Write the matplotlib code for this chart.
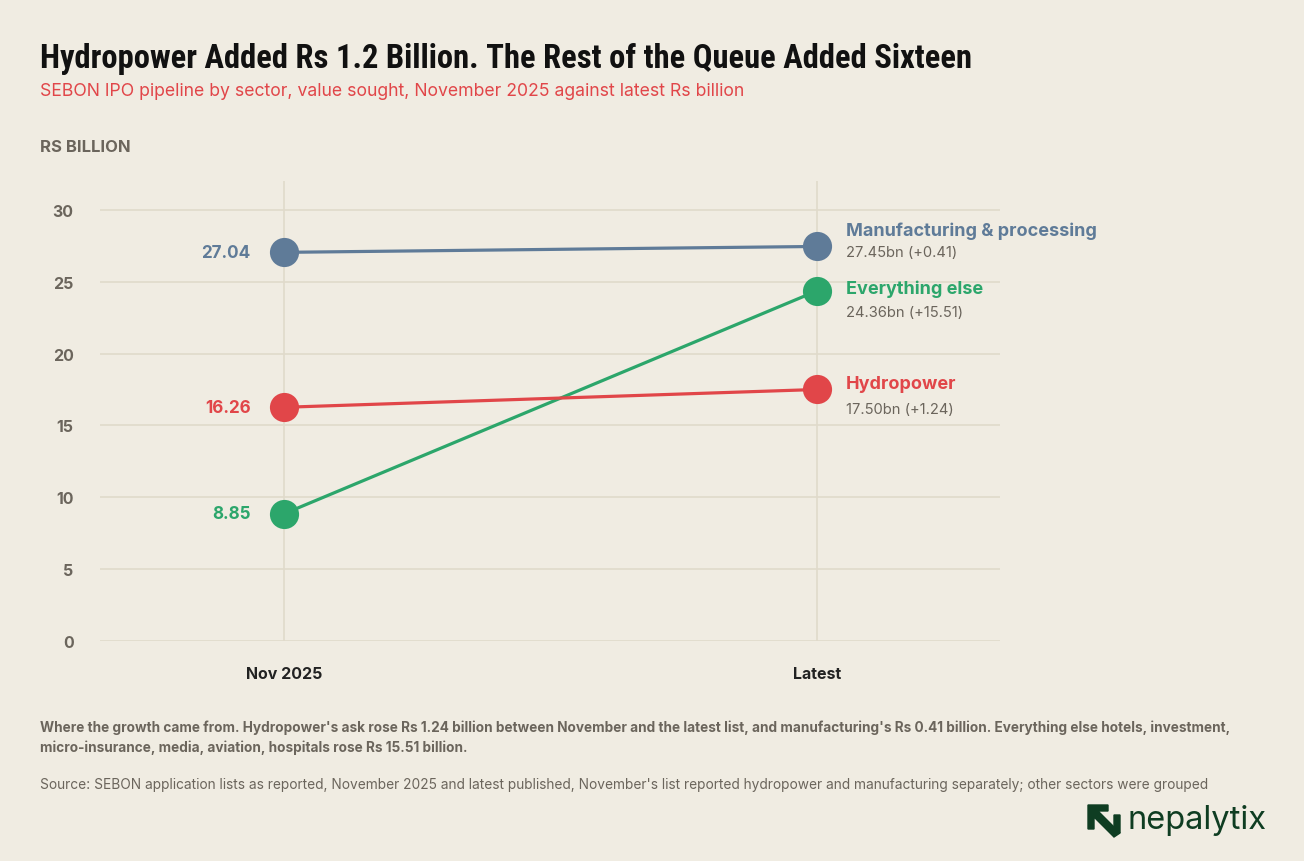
import matplotlib
matplotlib.use("Agg")
import matplotlib.pyplot as plt
from matplotlib.patches import Polygon

# data (Rs billion)
periods = ["Nov 2025", "Latest"]
sectors = ["Manufacturing & processing", "Everything else", "Hydropower"]
nov_values = [27.04, 8.85, 16.26]
latest_values = [27.45, 24.36, 17.50]
changes = ["+0.41", "+15.51", "+1.24"]
y_ticks = [0, 5, 10, 15, 20, 25, 30]

colors = ["#5f7b98", "#2ca66b", "#e14649"]
# label nudges in points (name, value) to keep right-hand labels apart
name_dy = [12, 2, 4]
value_dy = [-4, -15, -14]

BG = "#f0ece2"
GRID = "#e0dacb"
MUTED = "#6b655c"

plt.rcParams["font.family"] = ["Inter", "DejaVu Sans"]

fig = plt.figure(figsize=(13.04, 8.62), dpi=100, facecolor=BG)
ax = fig.add_axes([0.0767, 0.2552, 0.690, 0.5336])
ax.set_facecolor(BG)

x = [0, 1]
for i, name in enumerate(sectors):
    ys = [nov_values[i], latest_values[i]]
    ax.plot(x, ys, color=colors[i], lw=2.3, zorder=3, solid_capstyle="round")
    ax.plot(x, ys, "o", color=colors[i], ms=21, zorder=4, markeredgewidth=0)
    ax.annotate(f"{nov_values[i]:.2f}", (0, nov_values[i]), xytext=(-24, 0),
                textcoords="offset points", ha="right", va="center",
                fontsize=12.3, fontweight="bold", color=colors[i])
    ax.annotate(name, (1, latest_values[i]), xytext=(21, name_dy[i]),
                textcoords="offset points", ha="left", va="center",
                fontsize=13, fontweight="bold", color=colors[i])
    ax.annotate(f"{latest_values[i]:.2f}bn ({changes[i]})", (1, latest_values[i]),
                xytext=(21, value_dy[i]), textcoords="offset points",
                ha="left", va="center", fontsize=10.6, color=MUTED)

ax.set_xlim(-0.345, 1.343)
ax.set_ylim(0, 32)
ax.set_yticks(y_ticks)
ax.set_yticklabels([str(t) for t in y_ticks], fontsize=11.5, fontweight="bold", color=MUTED)
ax.set_xticks(x)
ax.set_xticklabels(periods, fontsize=11.5, fontweight="bold", color="#222222")
ax.tick_params(axis="y", length=0, pad=19)
ax.tick_params(axis="x", length=0, pad=18)
for s in ax.spines.values():
    s.set_visible(False)
ax.grid(axis="y", color=GRID, lw=1.2, zorder=0)
for xv in x:
    ax.axvline(xv, color=GRID, lw=1.2, zorder=1)
ax.set_axisbelow(True)

# titles
fig.text(40 / 1304, 1 - 59 / 862,
         "Hydropower Added Rs 1.2 Billion. The Rest of the Queue Added Sixteen",
         fontsize=23.5, fontweight="bold", family=["Roboto Condensed", "DejaVu Sans"],
         fontstretch="condensed", color="#111111", va="center", ha="left")
fig.text(40 / 1304, 1 - 91 / 862,
         "SEBON IPO pipeline by sector, value sought, November 2025 against latest Rs billion",
         fontsize=12.7, color="#e14649", va="center", ha="left")
fig.text(40 / 1304, 1 - 147 / 862, "RS BILLION", fontsize=12, fontweight="bold",
         color=MUTED, va="center", ha="left")

# footer
fig.text(40 / 1304, 1 - 728 / 862,
         "Where the growth came from. Hydropower's ask rose Rs 1.24 billion between November and the latest list, "
         "and manufacturing's Rs 0.41 billion. Everything else hotels, investment,",
         fontsize=9.8, fontweight="bold", color=MUTED, va="center", ha="left")
fig.text(40 / 1304, 1 - 748 / 862,
         "micro-insurance, media, aviation, hospitals rose Rs 15.51 billion.",
         fontsize=9.8, fontweight="bold", color=MUTED, va="center", ha="left")
fig.text(40 / 1304, 1 - 785 / 862,
         "Source: SEBON application lists as reported, November 2025 and latest published, November's list reported "
         "hydropower and manufacturing separately; other sectors were grouped",
         fontsize=9.9, color=MUTED, va="center", ha="left")

# logo
logo_c = "#0f3d22"
def fx(px):
    return px / 1304
def fy(py):
    return 1 - py / 862
icon = [(1088, 806), (1108, 806), (1108, 812), (1098, 812), (1120, 834), (1114, 838),
        (1094, 818), (1094, 830), (1088, 830)]
fig.patches.append(Polygon([(fx(a), fy(b)) for a, b in icon], closed=True,
                           transform=fig.transFigure, color=logo_c, figure=fig))
fig.patches.append(Polygon([(fx(a), fy(b)) for a, b in
                            [(1114, 816), (1120, 816), (1120, 834), (1114, 830)]],
                           closed=True, transform=fig.transFigure, color=logo_c, figure=fig))
fig.text(fx(1127), fy(821), "nepalytix", fontsize=23.5, color=logo_c,
         va="center", ha="left")

fig.savefig("out.png", dpi=100, facecolor=BG)
